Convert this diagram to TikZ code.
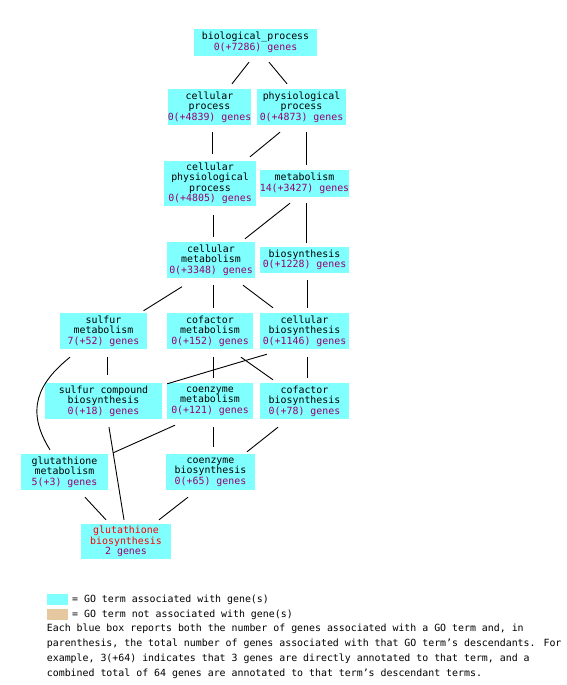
\documentclass[tikz,border=0pt]{standalone}
\usepackage{fontspec}
\setmainfont{DejaVu Sans Mono}
\definecolor{gocyan}{RGB}{128,255,255}
\definecolor{gotan}{RGB}{230,200,160}
\definecolor{genes}{RGB}{150,0,110}
\definecolor{hitred}{RGB}{255,0,0}
\begin{document}
\begin{tikzpicture}[
    x=1pt, y=-1pt,
    term/.style={fill=gocyan, inner sep=0pt, align=center, font=\fontsize{9.9}{10.5}\selectfont},
    edge/.style={draw=black, line width=0.9pt},
    legbox/.style={minimum width=21pt, minimum height=11pt, inner sep=0pt},
    note/.style={anchor=west, inner sep=0pt, font=\fontsize{9.9}{12}\selectfont},
  ]
    \path[use as bounding box, fill=white] (0,0) rectangle (566,685);

    % === GO terms ===
    \node[term, minimum width=123pt, minimum height=27pt] (bp) at (255.5,42.5) {biological\_process\\\textcolor{genes}{0(+7286) genes}};
    \node[term, minimum width=83pt, minimum height=36pt] (cp) at (209.5,107) {cellular\\process\\\textcolor{genes}{0(+4839) genes}};
    \node[term, minimum width=89pt, minimum height=36pt] (pp) at (301.5,107) {physiological\\process\\\textcolor{genes}{0(+4873) genes}};
    \node[term, minimum width=92pt, minimum height=45pt] (cpp) at (210,183.5) {cellular\\physiological\\process\\\textcolor{genes}{0(+4805) genes}};
    \node[term, minimum width=87pt, minimum height=27pt] (met) at (304.5,183.5) {metabolism\\\textcolor{genes}{14(+3427) genes}};
    \node[term, minimum width=88pt, minimum height=36pt] (cm) at (211,260) {cellular\\metabolism\\\textcolor{genes}{0(+3348) genes}};
    \node[term, minimum width=89pt, minimum height=26pt] (bios) at (304.5,260) {biosynthesis\\\textcolor{genes}{0(+1228) genes}};

    \node[term, minimum width=87pt, minimum height=36pt] (sm) at (103.5,331) {sulfur\\metabolism\\\textcolor{genes}{7(+52) genes}};
    \node[term, minimum width=86pt, minimum height=36pt] (cofm) at (210,331) {cofactor\\metabolism\\\textcolor{genes}{0(+152) genes}};
    \node[term, minimum width=89pt, minimum height=36pt] (cb) at (304.5,331) {cellular\\biosynthesis\\\textcolor{genes}{0(+1146) genes}};

    \node[term, minimum width=117pt, minimum height=36pt] (scb) at (103.5,401) {sulfur compound\\biosynthesis\\\textcolor{genes}{0(+18) genes}};
    \node[term, minimum width=86pt, minimum height=36pt] (coem) at (210,401) {coenzyme\\metabolism\\\textcolor{genes}{0(+121) genes}};
    \node[term, minimum width=89pt, minimum height=36pt] (cofb) at (304.5,401) {cofactor\\biosynthesis\\\textcolor{genes}{0(+78) genes}};

    \node[term, minimum width=87pt, minimum height=36pt] (gm) at (64.5,472) {glutathione\\metabolism\\\textcolor{genes}{5(+3) genes}};
    \node[term, minimum width=89pt, minimum height=36pt] (coeb) at (210.5,472) {coenzyme\\biosynthesis\\\textcolor{genes}{0(+65) genes}};

    \node[term, minimum width=90pt, minimum height=35pt] (gb) at (126,541.5) {\textcolor{hitred}{glutathione}\\\textcolor{hitred}{biosynthesis}\\\textcolor{genes}{2 genes}};

    % === is_a links ===
    \draw[edge] ([shift={(-6.5,6)}]bp.south) -- ([shift={(22.5,-5)}]cp.north);
    \draw[edge] ([shift={(13.5,6)}]bp.south) -- ([shift={(-14.5,-5)}]pp.north);
    \draw[edge] ([shift={(2.5,7)}]cp.south) -- ([shift={(2,-7)}]cpp.north);
    \draw[edge] ([shift={(-21.5,7)}]pp.south) -- ([shift={(40,-4)}]cpp.north);
    \draw[edge] ([shift={(4.5,7)}]pp.south) -- ([shift={(1.5,-5)}]met.north);
    \draw[edge] ([shift={(3,9)}]cpp.south) -- ([shift={(2,-5)}]cm.north);
    \draw[edge] ([shift={(-14.5,6)}]met.south) -- ([shift={(34,-3)}]cm.north);
    \draw[edge] ([shift={(1.5,6)}]met.south) -- ([shift={(1.5,-4)}]bios.north);
    \draw[edge] ([shift={(-29,8.5)}]cm.south) -- ([shift={(40,-2)}]sm.north);
    \draw[edge] ([shift={(2,7)}]cm.south) -- ([shift={(3,-5)}]cofm.north);
    \draw[edge] ([shift={(32,7)}]cm.south) -- ([shift={(-31.5,-5)}]cb.north);
    \draw[edge] ([shift={(2.5,7)}]bios.south) -- ([shift={(2.5,-5)}]cb.north);

    \draw[edge] ([shift={(3.5,8)}]sm.south) -- ([shift={(3.5,-8)}]scb.north);
    \draw[edge] ([shift={(-33.5,8)}]sm.south) .. controls (38,383) and (25,410) .. ([shift={(-14.5,-4)}]gm.north);
    \draw[edge] ([shift={(3,8)}]cofm.south) -- ([shift={(3,-5)}]coem.north);
    \draw[edge] ([shift={(31,8)}]cofm.south) -- ([shift={(-31.5,-3)}]cofb.north);
    \draw[edge] ([shift={(2.5,8)}]cb.south) -- ([shift={(2.5,-5)}]cofb.north);
    \draw[edge] ([shift={(-37.5,5)}]cb.south) .. controls (240,362) and (200,374) .. ([shift={(5,1)}]scb.north east);

    \draw[edge] ([shift={(5.5,8)}]scb.south) -- ([shift={(-2,-4)}]gb.north);
    \draw[edge] ([shift={(-35,6)}]coem.south) -- ([shift={(5,-1)}]gm.north east);
    \draw[edge] ([shift={(3,8)}]coem.south) -- ([shift={(2.5,-7)}]coeb.north);
    \draw[edge] ([shift={(-26.5,8)}]cofb.south) -- ([shift={(36.5,-2)}]coeb.north);
    \draw[edge] ([shift={(20.5,7)}]gm.south) -- ([shift={(-20,-4)}]gb.north);
    \draw[edge] ([shift={(-22.5,7)}]coeb.south) -- ([shift={(33,-4)}]gb.north);

    % === Legend ===
    \node[legbox, fill=gocyan] (legA) at (57.5,599.5) {};
    \node[note] (legAtxt) at (72,599.5) {= GO term associated with gene(s)};
    \node[legbox, fill=gotan] (legB) at (57.5,614.5) {};
    \node[note] (legBtxt) at (72,614.5) {= GO term not associated with gene(s)};
    \node[note] (line1) at (46.7,629) {Each blue box reports both the number of genes associated with a GO term and, in};
    \node[note] (line2) at (46.7,644) {parenthesis, the total number of genes associated with that GO term’s descendants. For};
    \node[note] (line3) at (46.7,659) {example, 3(+64) indicates that 3 genes are directly annotated to that term, and a};
    \node[note] (line4) at (46.7,674) {combined total of 64 genes are annotated to that term’s descendant terms.};
  \end{tikzpicture}
\end{document}
